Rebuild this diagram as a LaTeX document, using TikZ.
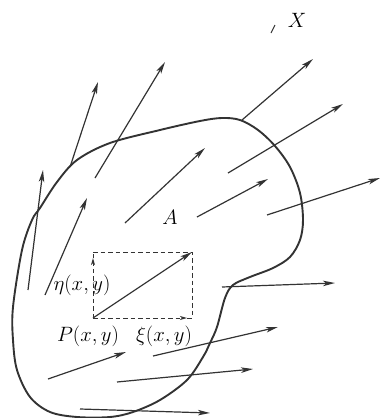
\documentclass[tikz,border=0pt]{standalone}
\usetikzlibrary{arrows.meta}
\begin{document}
\begin{tikzpicture}[x=1pt,y=-1pt,
  vec/.style={line width=1.2pt,draw=black!80,-{Stealth[length=12pt,width=5.5pt,inset=3pt]}},
  dline/.style={line width=1pt,draw=black!80,dash pattern=on 4.5pt off 3pt},
  dvec/.style={dline,-{Stealth[length=7pt,width=4pt,inset=2pt]}},
  boundary/.style={line width=1.9pt,draw=black!80},
  lbl/.style={inner sep=0pt,font=\fontsize{21}{24}\selectfont}]
\useasboundingbox (0,0) rectangle (380,418);
% region boundary
\draw[boundary] plot[smooth cycle,tension=0.55] coordinates {
 (40,208) (57,182) (77,160) (110,143) (160,130) (200,121) (222,118) (240,120)
 (258,130) (275,146) (290,167) (300,193) (303,220) (300,240) (290,257) (273,268) (250,277)
 (233,285) (225,298) (217,327) (210,343) (203,357) (187,380) (160,400) (133,412)
 (110,417) (77,417) (50,412) (30,397) (17,370) (13,340) (13,307) (22,250) (32,220)};
% vectors
\coordinate (a1) at (70,167);  \coordinate (b1) at (98,82);
\coordinate (a2) at (95,178);  \coordinate (b2) at (165,62);
\coordinate (a3) at (242,120); \coordinate (b3) at (313,59);
\coordinate (a4) at (228,173); \coordinate (b4) at (343,104);
\coordinate (a5) at (125,223); \coordinate (b5) at (205,148);
\coordinate (a6) at (197,217); \coordinate (b6) at (268,179);
\coordinate (a7) at (267,215); \coordinate (b7) at (380,178);
\coordinate (a8) at (28,290);  \coordinate (b8) at (43,170);
\coordinate (a9) at (45,295);  \coordinate (b9) at (87,198);
\coordinate (a10) at (222,287); \coordinate (b10) at (335,283);
\coordinate (a11) at (153,356); \coordinate (b11) at (278,327);
\coordinate (a12) at (48,379);  \coordinate (b12) at (126,352);
\coordinate (a13) at (117,382); \coordinate (b13) at (253,369);
\coordinate (a14) at (80,409);  \coordinate (b14) at (210,413);
\foreach \i in {1,...,14} {\draw[vec] (a\i) -- (b\i);}
% decomposition at P
\coordinate (P) at (93,318);
\coordinate (Q) at (192,252);
\coordinate (Etop) at (93,252);
\coordinate (Xr) at (192,318);
\coordinate (Etip) at (93,258);
\coordinate (Xtip) at (187,318);
\draw[dline] (Etop) -- (Q) -- (Xr);
\draw[dline] (Etip) -- (Etop);
\draw[dline] (Xtip) -- (Xr);
\draw[dvec] (P) -- (Etip);
\draw[dvec] (P) -- (Xtip);
\draw[vec] (P) -- (Q);
% labels
\node[lbl] (eta) at (82,285) {$\eta(x,y)$};
\node[lbl] (plab) at (88,336) {$P(x,y)$};
\node[lbl] (xi) at (164,336) {$\xi(x,y)$};
\node[lbl] (A) at (170,217) {$A$};
\node[lbl] (X) at (297,20) {$X$};
\coordinate (s1) at (271,33); \coordinate (s2) at (275,25);
\draw[line width=1pt,draw=black!80] (s1) -- (s2);
\end{tikzpicture}
\end{document}
